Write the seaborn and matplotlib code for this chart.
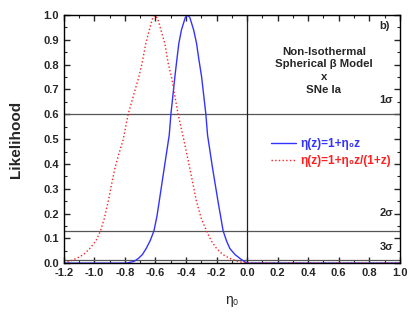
import numpy as np
import pandas as pd
import matplotlib
matplotlib.use("Agg")
import matplotlib.pyplot as plt
import seaborn as sns
from matplotlib.ticker import MultipleLocator

# likelihood curves
eta_lin = [-1.2, -0.79, -0.74, -0.71, -0.685, -0.66, -0.635, -0.61, -0.59, -0.576,
           -0.543, -0.51, -0.499, -0.473, -0.46, -0.447, -0.43, -0.405, -0.39, -0.375,
           -0.35, -0.331, -0.318, -0.298, -0.27, -0.259, -0.226, -0.19, -0.157, -0.135,
           -0.113, -0.08, -0.047, -0.02, 0.0, 1.0]
like_lin = [0.0, 0.0, 0.007, 0.02, 0.035, 0.06, 0.09, 0.13, 0.19, 0.247,
            0.382, 0.516, 0.6, 0.751, 0.82, 0.886, 0.94, 0.99, 1.0, 0.99,
            0.94, 0.886, 0.83, 0.751, 0.6, 0.516, 0.382, 0.247, 0.13, 0.09,
            0.059, 0.035, 0.019, 0.007, 0.0, 0.0]

eta_frac = [-1.2, -1.16, -1.117, -1.07, -1.03, -0.99, -0.96, -0.935, -0.91, -0.89,
            -0.866, -0.84, -0.812, -0.779, -0.709, -0.69, -0.663, -0.645, -0.62, -0.604,
            -0.585, -0.56, -0.539, -0.515, -0.495, -0.452, -0.414, -0.375, -0.331, -0.3,
            -0.266, -0.235, -0.2, -0.16, -0.113, -0.06, -0.01, 1.0]
like_frac = [0.002, 0.008, 0.019, 0.035, 0.059, 0.09, 0.13, 0.18, 0.247, 0.31,
             0.382, 0.44, 0.496, 0.6, 0.751, 0.8, 0.886, 0.93, 0.985, 1.0,
             0.985, 0.93, 0.886, 0.8, 0.751, 0.6, 0.496, 0.382, 0.247, 0.18,
             0.13, 0.09, 0.059, 0.035, 0.019, 0.007, 0.0, 0.0]

sigma_levels = [0.6, 0.13, 0.012]
sigma_labels = ["1σ", "2σ", "3σ"]
sigma_label_y = [0.657, 0.203, 0.066]

label_lin = "η(z)=1+η₀z"
label_frac = "η(z)=1+η₀z/(1+z)"

sns.set_style("ticks")
plt.rcParams['font.family'] = ['Liberation Sans', 'DejaVu Sans']
plt.rcParams['font.weight'] = 'bold'

fig = plt.figure(figsize=(4.2, 3.14), dpi=100)
ax = fig.add_axes([0.152, 0.162, 0.8, 0.79])

df_lin = pd.DataFrame({"eta": eta_lin, "L": like_lin})
df_frac = pd.DataFrame({"eta": eta_frac, "L": like_frac})

for lvl in sigma_levels:
    ax.axhline(lvl, color="#555555", lw=0.9, zorder=1)
ax.axvline(0.0, color="#222222", lw=0.9, zorder=1)

sns.lineplot(data=df_lin, x="eta", y="L", ax=ax, color="#3333ff", lw=1.0,
             label=label_lin, sort=False, estimator=None)
sns.lineplot(data=df_frac, x="eta", y="L", ax=ax, color="#ff2020", lw=1.0,
             linestyle=":", label=label_frac, sort=False, estimator=None)

ax.set_xlim(-1.2, 1.0)
ax.set_ylim(0.0, 1.0)
ax.xaxis.set_major_locator(MultipleLocator(0.2))
ax.xaxis.set_minor_locator(MultipleLocator(0.1))
ax.yaxis.set_major_locator(MultipleLocator(0.1))
ax.yaxis.set_minor_locator(MultipleLocator(0.05))
ax.tick_params(which="both", direction="in", top=True, right=True, labelsize=8)
ax.tick_params(which="major", length=4, width=1)
ax.tick_params(which="minor", length=2, width=0.8)
ax.xaxis.set_major_formatter(matplotlib.ticker.FormatStrFormatter("%.1f"))
ax.yaxis.set_major_formatter(matplotlib.ticker.FormatStrFormatter("%.1f"))
for sp in ax.spines.values():
    sp.set_linewidth(1.0)
    sp.set_color("black")

ax.set_ylabel("Likelihood", fontsize=11, fontweight="bold", labelpad=15)
ax.set_xlabel("η₀", fontsize=10, fontweight="normal", labelpad=11)

ax.text(0.97, 0.955, "b)", transform=ax.transAxes, ha="right", va="center", fontsize=8)
ax.text(0.503, 0.775, "Non-Isothermal\nSpherical β Model\nx\nSNe Ia", ha="center", va="center",
        fontsize=8.2, linespacing=1.35)
for lab, yy in zip(sigma_labels, sigma_label_y):
    ax.text(0.955, yy, lab, ha="right", va="center", fontsize=8)

leg = ax.legend(loc="center left", bbox_to_anchor=(0.585, 0.445), frameon=False,
                fontsize=8.5, handlelength=2.1, handletextpad=0.4, labelspacing=0.45,
                labelcolor="linecolor")

fig.savefig("out.png", dpi=100)
